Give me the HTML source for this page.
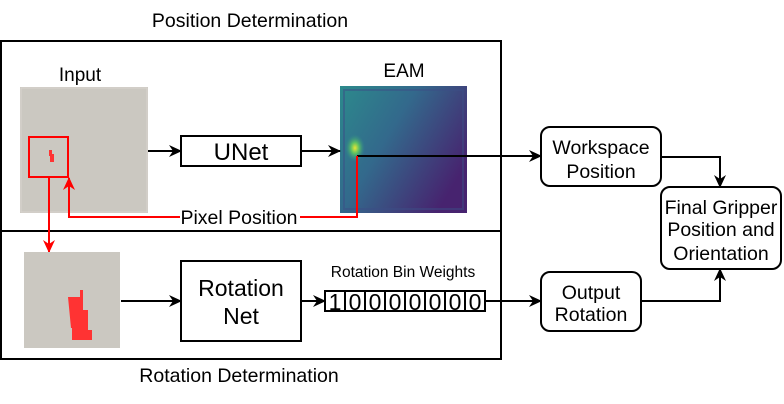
<!DOCTYPE html>
<html><head><meta charset="utf-8"><style>
html,body{margin:0;padding:0;background:#fff;}
svg{display:block;font-family:"Liberation Sans",Arial,sans-serif;}
</style></head><body>
<svg width="784" height="404" viewBox="0 0 784 404" xmlns="http://www.w3.org/2000/svg">
<defs>
<marker id="ab" markerWidth="13" markerHeight="12" refX="12" refY="6" orient="auto" markerUnits="userSpaceOnUse"><path d="M0,0 L13,6 L0,12 L4,6 Z" fill="#000"/></marker>
<marker id="ar" markerWidth="13" markerHeight="12" refX="12" refY="6" orient="auto" markerUnits="userSpaceOnUse"><path d="M0,0 L13,6 L0,12 L4,6 Z" fill="#f00"/></marker>
<linearGradient id="eam" x1="0" y1="0" x2="1" y2="0.6">
<stop offset="0" stop-color="#2c8a8c"/><stop offset="0.45" stop-color="#33698c"/><stop offset="1" stop-color="#47236f"/>
</linearGradient>
<radialGradient id="hot" cx="0.5" cy="0.5" r="0.5"><stop offset="0" stop-color="#e8e534"/><stop offset="0.4" stop-color="#5cc063"/><stop offset="1" stop-color="#2c8a8c" stop-opacity="0"/></radialGradient>
</defs>
<text x="250" y="27" font-size="19.5" text-anchor="middle">Position Determination</text>
<text x="239" y="382" font-size="19.5" text-anchor="middle">Rotation Determination</text>
<rect x="1" y="41" width="500" height="318" fill="none" stroke="#000" stroke-width="2"/>
<line x1="1" y1="231" x2="501" y2="231" stroke="#000" stroke-width="2"/>
<text x="80" y="81" font-size="19" text-anchor="middle">Input</text>
<text x="404" y="77" font-size="19" text-anchor="middle">EAM</text>
<rect x="20" y="87" width="128" height="126" fill="#cbc8c1"/>
<rect x="21" y="88" width="126" height="124" fill="none" stroke="#d8d5cf" stroke-width="1"/>
<path d="M49,150 h3 v4 h2 v8 h-4 v-6 h-1 z" fill="#f33"/>
<rect x="29" y="137" width="39" height="40" fill="none" stroke="#f00" stroke-width="2"/>
<rect x="340" y="86" width="127" height="127" fill="url(#eam)"/>
<rect x="344" y="90" width="119" height="119" fill="none" stroke="#3b4d86" stroke-width="2" opacity="0.5"/>
<ellipse cx="355" cy="148" rx="10" ry="14" fill="url(#hot)"/>
<line x1="148" y1="151" x2="181" y2="151" stroke="#000" stroke-width="2" marker-end="url(#ab)"/>
<rect x="181" y="136" width="120" height="30" fill="#fff" stroke="#000" stroke-width="2"/>
<text x="241" y="160" font-size="24" text-anchor="middle">UNet</text>
<line x1="301" y1="151" x2="340" y2="151" stroke="#000" stroke-width="2" marker-end="url(#ab)"/>
<line x1="357" y1="156" x2="541" y2="156" stroke="#000" stroke-width="2" marker-end="url(#ab)"/>
<polyline points="357,156 357,217 300,217" fill="none" stroke="#f00" stroke-width="2"/>
<polyline points="180,217 69,217 69,178" fill="none" stroke="#f00" stroke-width="2" marker-end="url(#ar)"/>
<text x="239" y="224" font-size="19.5" text-anchor="middle">Pixel Position</text>
<line x1="49" y1="177" x2="49" y2="252" stroke="#f00" stroke-width="2" marker-end="url(#ar)"/>
<rect x="24" y="252" width="96" height="96" fill="#cbc8c1"/>
<path d="M68,297 h12 v-7 h3 v20 h5 v20 h4 v10 h-20 v-12 h-1 z" fill="#f33"/>
<line x1="121" y1="301" x2="181" y2="301" stroke="#000" stroke-width="2" marker-end="url(#ab)"/>
<rect x="181" y="261" width="120" height="80" fill="#fff" stroke="#000" stroke-width="2"/>
<text x="241" y="296" font-size="23" text-anchor="middle">Rotation</text>
<text x="241" y="324" font-size="23" text-anchor="middle">Net</text>
<line x1="301" y1="301" x2="325" y2="301" stroke="#000" stroke-width="2" marker-end="url(#ab)"/>
<text x="403" y="277" font-size="15.5" text-anchor="middle">Rotation Bin Weights</text>
<g stroke="#000" stroke-width="2" fill="#fff">
<rect x="325" y="291" width="160" height="20"/>
<line x1="345" y1="291" x2="345" y2="311"/><line x1="365" y1="291" x2="365" y2="311"/><line x1="385" y1="291" x2="385" y2="311"/><line x1="405" y1="291" x2="405" y2="311"/><line x1="425" y1="291" x2="425" y2="311"/><line x1="445" y1="291" x2="445" y2="311"/><line x1="465" y1="291" x2="465" y2="311"/>
</g>
<g font-size="23" text-anchor="middle">
<text x="335" y="310">1</text><text x="355" y="310">0</text><text x="375" y="310">0</text><text x="395" y="310">0</text><text x="415" y="310">0</text><text x="435" y="310">0</text><text x="455" y="310">0</text><text x="475" y="310">0</text>
</g>
<line x1="485" y1="301" x2="541" y2="301" stroke="#000" stroke-width="2" marker-end="url(#ab)"/>
<rect x="541" y="127" width="120" height="59" rx="9" fill="#fff" stroke="#000" stroke-width="2"/>
<text x="601" y="154" font-size="19.5" text-anchor="middle">Workspace</text>
<text x="601" y="178" font-size="19.5" text-anchor="middle">Position</text>
<rect x="661" y="187" width="120" height="82" rx="9" fill="#fff" stroke="#000" stroke-width="2"/>
<text x="721" y="214" font-size="19.5" text-anchor="middle">Final Gripper</text>
<text x="721" y="236" font-size="19.5" text-anchor="middle">Position and</text>
<text x="721" y="260" font-size="19.5" text-anchor="middle">Orientation</text>
<rect x="541" y="272" width="100" height="59" rx="9" fill="#fff" stroke="#000" stroke-width="2"/>
<text x="591" y="299" font-size="19.5" text-anchor="middle">Output</text>
<text x="591" y="321" font-size="19.5" text-anchor="middle">Rotation</text>
<polyline points="661,157 720,157 720,187" fill="none" stroke="#000" stroke-width="2" marker-end="url(#ab)"/>
<polyline points="641,301 720,301 720,269" fill="none" stroke="#000" stroke-width="2" marker-end="url(#ab)"/>
</svg>
</body></html>
